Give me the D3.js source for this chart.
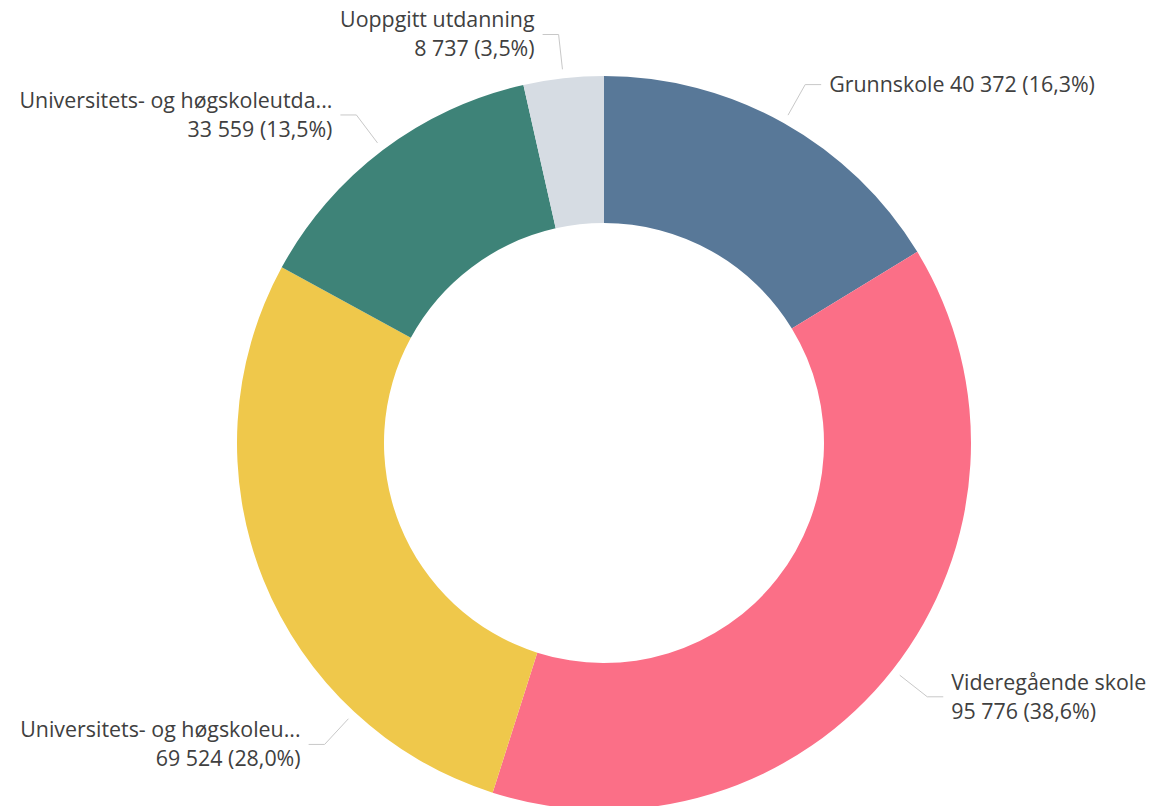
<!DOCTYPE html>
<html>
<head>
<meta charset="utf-8">
<script src="https://cdn.jsdelivr.net/npm/d3@7"></script>
<style>
  html, body { margin: 0; padding: 0; background: #fff; overflow: hidden; }
  svg { display: block; }
</style>
</head>
<body>
<div id="chart"></div>
<script>
// Data
const categories = [
  "Grunnskole",
  "Videregående skole",
  "Universitets- og høgskoleu...",
  "Universitets- og høgskoleutda...",
  "Uoppgitt utdanning"
];
const values = [40372, 95776, 69524, 33559, 8737];
const colors = ["#587898", "#fb6f87", "#efc84b", "#3e8378", "#d6dce3"];
// label on one line (name + value) or two lines
const singleLine = [true, false, false, false, false];

const width = 1150, height = 806;
const cx = 604, cy = 443;
const outerR = 367, innerR = 220;
const lineStartR = 376, elbowR = 411;
// angle shift (degrees) applied to a leader line so labels don't collide
const labelShift = [0, 0, -25.3, 0, 0];

const locale = d3.formatLocale({ decimal: ",", thousands: " ", grouping: [3], currency: ["", " kr"] });
const fmtNum = locale.format(",d");
const fmtPct = locale.format(".1%");

const svg = d3.select("#chart").append("svg")
  .attr("width", width).attr("height", height);

const g = svg.append("g").attr("transform", `translate(${cx},${cy})`);

const total = d3.sum(values);
const pie = d3.pie().sort(null).value(d => d);
const arcs = pie(values);
const arc = d3.arc().innerRadius(innerR).outerRadius(outerR);

g.selectAll("path.slice")
  .data(arcs)
  .enter().append("path")
  .attr("class", "slice")
  .attr("d", arc)
  .attr("fill", (d, i) => colors[i]);

// Leader lines and labels
const polar = (r, a) => [r * Math.sin(a), -r * Math.cos(a)];

arcs.forEach((d, i) => {
  const a = (d.startAngle + d.endAngle) / 2 + labelShift[i] * Math.PI / 180;
  const right = Math.sin(a) >= 0;
  const p1 = polar(lineStartR, a);
  const p2 = polar(elbowR, a);
  const p3 = [p2[0] + (right ? 16 : -16), p2[1]];
  const tx = p3[0] + (right ? 8 : -8);

  g.append("polyline")
    .attr("points", [p1, p2, p3].map(p => p.join(",")).join(" "))
    .attr("fill", "none")
    .attr("stroke", "#c8c8c8")
    .attr("stroke-width", 1);

  const valueText = `${fmtNum(values[i])} (${fmtPct(values[i] / total)})`;
  const text = g.append("text")
    .attr("x", tx)
    .attr("y", p2[1])
    .attr("text-anchor", right ? "start" : "end")
    .style("font-family", "'Segoe UI', 'Open Sans', sans-serif")
    .style("font-size", "21.4px")
    .attr("fill", "#404040");

  if (singleLine[i]) {
    text.append("tspan").attr("dy", "0.35em").text(`${categories[i]} ${valueText}`);
  } else {
    text.append("tspan").attr("x", tx).attr("dy", "-0.34em").text(categories[i]);
    text.append("tspan").attr("x", tx).attr("dy", "1.36em").text(valueText);
  }
});
</script>
</body>
</html>
